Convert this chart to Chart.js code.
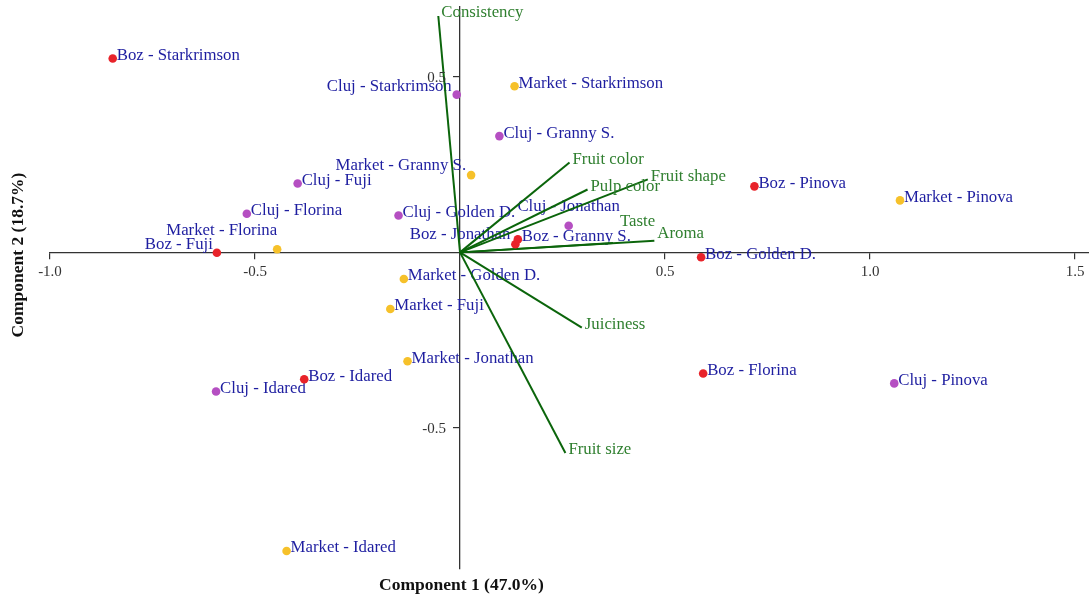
<!DOCTYPE html>
<html>
<head>
<meta charset="utf-8">
<title>PCA biplot – apple samples</title>
<script src="https://cdn.jsdelivr.net/npm/chart.js@4.4.1/dist/chart.umd.min.js"></script>
<style>
  html, body { margin: 0; padding: 0; background: #ffffff; }
  #wrap { width: 1089px; height: 602px; }
</style>
</head>
<body>
<div id="wrap"><canvas id="biplot" width="1089" height="602"></canvas></div>
<script>
// Sample scores on the first two principal components, grouped by origin
const varieties = ['Starkrimson', 'Fuji', 'Pinova', 'Jonathan', 'Granny S.', 'Golden D.', 'Idared', 'Florina'];

const bozPC1 = [-0.847, -0.593, 0.718, 0.135, 0.141, 0.588, -0.380, 0.593];
const bozPC2 = [0.552, -0.001, 0.188, 0.023, 0.037, -0.014, -0.361, -0.345];

const clujPC1 = [-0.008, -0.396, 1.059, 0.265, 0.096, -0.150, -0.595, -0.520];
const clujPC2 = [0.449, 0.196, -0.373, 0.076, 0.331, 0.105, -0.396, 0.110];

const marketPC1 = [0.133, -0.170, 1.073, -0.128, 0.027, -0.137, -0.423, -0.446];
const marketPC2 = [0.473, -0.161, 0.148, -0.310, 0.220, -0.076, -0.850, 0.009];

// Loadings of the sensory attributes
const attributes = ['Consistency', 'Fruit color', 'Fruit shape', 'Pulp color', 'Taste', 'Aroma', 'Juiciness', 'Fruit size'];
const loadPC1 = [-0.053, 0.267, 0.458, 0.311, 0.373, 0.474, 0.297, 0.257];
const loadPC2 = [0.673, 0.256, 0.208, 0.179, 0.027, 0.033, -0.214, -0.571];

// Axis ticks and titles
const xTicks = [-1.0, -0.5, 0.5, 1.0, 1.5];
const yTicks = [0.5, -0.5];
const xTitle = 'Component 1 (47.0%)';
const yTitle = 'Component 2 (18.7%)';

// Label placement tweaks: [textAlign, dx, dy] relative to the point
const pointLabelNudge = {
  'Cluj - Starkrimson': ['right', -5, -8],
  'Market - Granny S.': ['right', -5, -9],
  'Market - Florina': ['right', 0, -19],
  'Boz - Fuji': ['right', -4, -8],
  'Boz - Jonathan': ['right', -5, -10],
  'Boz - Granny S.': ['left', 4, -3],
  'Cluj - Jonathan': ['center', 0, -19]
};
const vectorLabelNudge = {
  'Aroma': [3, -7],
  'Taste': [7, -21]
};

const SERIF = '"Liberation Serif", "Times New Roman", serif';
const LABEL_FONT = '16.8px ' + SERIF;
const TICK_FONT = { family: SERIF, size: 15 };
const TITLE_FONT = 'bold 17.5px ' + SERIF;
const AXIS_COLOR = '#333333';

function groupData(xs, ys) {
  return xs.map((x, i) => ({ x: x, y: ys[i] }));
}

const groups = [
  { name: 'Boz', xs: bozPC1, ys: bozPC2, color: '#e8232a' },
  { name: 'Cluj', xs: clujPC1, ys: clujPC2, color: '#b54fc2' },
  { name: 'Market', xs: marketPC1, ys: marketPC2, color: '#f6c12a' }
];

const datasets = [];
groups.forEach(g => {
  datasets.push({
    type: 'scatter',
    label: g.name,
    data: groupData(g.xs, g.ys),
    backgroundColor: g.color,
    borderWidth: 0,
    pointRadius: 4.3,
    pointHoverRadius: 4.3,
    order: 0
  });
});
attributes.forEach((a, i) => {
  datasets.push({
    type: 'line',
    label: a,
    data: [{ x: 0, y: 0 }, { x: loadPC1[i], y: loadPC2[i] }],
    borderColor: '#0b650b',
    borderWidth: 2,
    pointRadius: 0,
    fill: false,
    tension: 0,
    order: 1
  });
});

// Names next to sample points (drawn beneath the vectors)
const sampleLabels = {
  id: 'sampleLabels',
  beforeDatasetsDraw(chart) {
    const { ctx, scales } = chart;
    ctx.save();
    ctx.font = LABEL_FONT;
    ctx.fillStyle = '#1e1ea0';
    ctx.textBaseline = 'middle';
    groups.forEach(g => {
      g.xs.forEach((x, i) => {
        const name = g.name + ' - ' + varieties[i];
        const px = scales.x.getPixelForValue(x);
        const py = scales.y.getPixelForValue(g.ys[i]);
        const nudge = pointLabelNudge[name] || ['left', 4, -3];
        ctx.textAlign = nudge[0];
        ctx.fillText(name, px + nudge[1], py + nudge[2]);
      });
    });
    ctx.restore();
  }
};

// Attribute names at the tips of the loading vectors
const vectorLabels = {
  id: 'vectorLabels',
  afterDatasetsDraw(chart) {
    const { ctx, scales } = chart;
    ctx.save();
    ctx.font = LABEL_FONT;
    ctx.fillStyle = '#2f7f2f';
    ctx.textBaseline = 'middle';
    ctx.textAlign = 'left';
    attributes.forEach((a, i) => {
      const px = scales.x.getPixelForValue(loadPC1[i]);
      const py = scales.y.getPixelForValue(loadPC2[i]);
      const nudge = vectorLabelNudge[a] || [3, -3];
      ctx.fillText(a, px + nudge[0], py + nudge[1]);
    });
    ctx.restore();
  }
};

// Vertical-axis tick labels, set to the left of the tick marks on the centred axis
const yTickLabels = {
  id: 'yTickLabels',
  afterDraw(chart) {
    const { ctx, scales } = chart;
    const axisX = scales.x.getPixelForValue(0);
    ctx.save();
    ctx.font = TICK_FONT.size + 'px ' + SERIF;
    ctx.fillStyle = AXIS_COLOR;
    ctx.textAlign = 'right';
    ctx.textBaseline = 'middle';
    yTicks.forEach(v => {
      ctx.fillText(v.toFixed(1), axisX - 14, scales.y.getPixelForValue(v) + 1);
    });
    ctx.restore();
  }
};

// Axis titles sit along the canvas edges, away from the centred axes
const axisTitles = {
  id: 'axisTitles',
  afterDraw(chart) {
    const { ctx } = chart;
    ctx.save();
    ctx.font = TITLE_FONT;
    ctx.fillStyle = '#111111';
    ctx.textAlign = 'center';
    ctx.textBaseline = 'middle';
    ctx.fillText(xTitle, 461.5, 585);
    ctx.translate(18, 255);
    ctx.rotate(-Math.PI / 2);
    ctx.fillText(yTitle, 0, 0);
    ctx.restore();
  }
};

function noEdgePadding(scale) {
  scale.paddingLeft = 0;
  scale.paddingRight = 0;
  scale.paddingTop = 0;
  scale.paddingBottom = 0;
}

new Chart(document.getElementById('biplot'), {
  type: 'scatter',
  data: { datasets: datasets },
  options: {
    responsive: false,
    animation: false,
    layout: { autoPadding: false, padding: { left: 50, right: 0, top: 6.5, bottom: 33.5 } },
    plugins: {
      legend: { display: false },
      tooltip: { enabled: false }
    },
    events: [],
    scales: {
      x: {
        type: 'linear',
        min: -1.0,
        max: 1.534,
        position: { y: 0 },
        afterBuildTicks(scale) { scale.ticks = xTicks.map(v => ({ value: v })); },
        afterFit: noEdgePadding,
        ticks: {
          color: AXIS_COLOR,
          font: TICK_FONT,
          padding: 5,
          maxRotation: 0,
          autoSkip: false,
          callback: v => Number(v).toFixed(1)
        },
        grid: { drawOnChartArea: false, drawTicks: true, tickLength: 6, color: AXIS_COLOR, lineWidth: 1.2 },
        border: { display: true, color: AXIS_COLOR, width: 1.3 }
      },
      y: {
        type: 'linear',
        min: -0.9,
        max: 0.7,
        position: { x: 0 },
        afterBuildTicks(scale) { scale.ticks = yTicks.map(v => ({ value: v })); },
        afterFit: noEdgePadding,
        ticks: { display: false },
        grid: { drawOnChartArea: false, drawTicks: true, tickLength: 6, color: AXIS_COLOR, lineWidth: 1.2 },
        border: { display: true, color: AXIS_COLOR, width: 1.3 }
      }
    }
  },
  plugins: [sampleLabels, vectorLabels, yTickLabels, axisTitles]
});
</script>
</body>
</html>
